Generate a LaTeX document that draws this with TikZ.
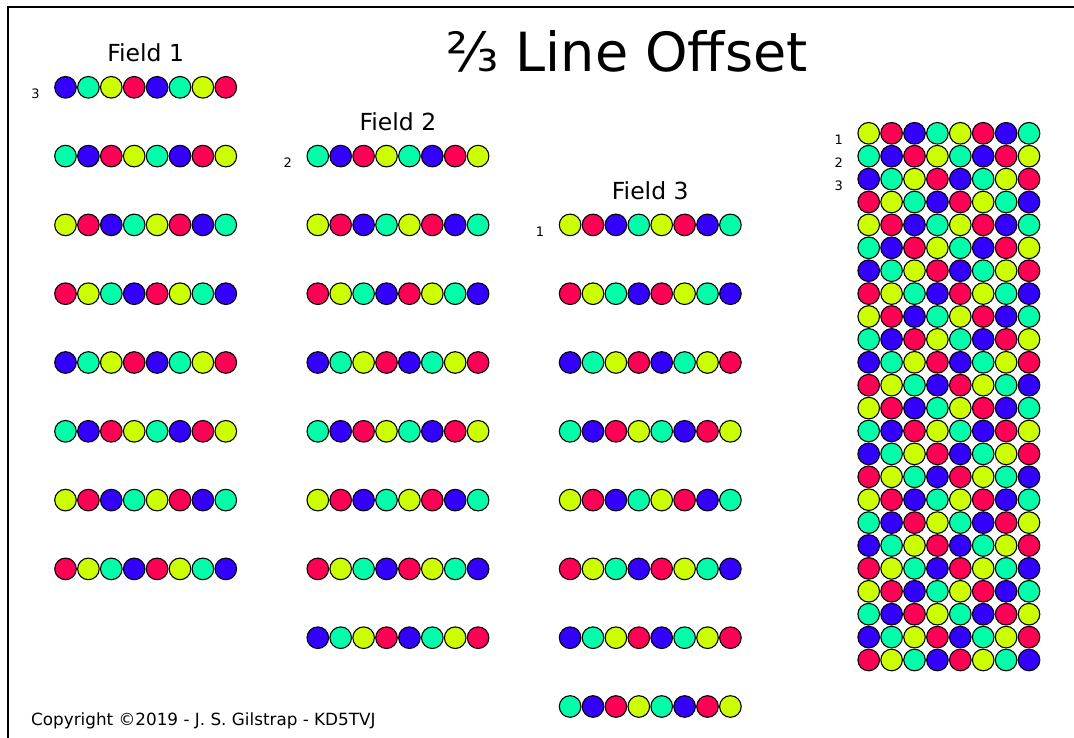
\documentclass[tikz,border=0pt]{standalone}
\usepackage{fontspec}
\setmainfont{DejaVu Sans}

\definecolor{bead0}{HTML}{CCFF00}
\definecolor{bead1}{HTML}{FF0055}
\definecolor{bead2}{HTML}{3300FF}
\definecolor{bead3}{HTML}{00FFAA}

\tikzset{
  bead/.style={circle,draw=black,line width=1.1pt,inner sep=0pt,minimum size=21.6pt},
  rowlabel/.style={anchor=base,inner sep=0pt,font=\fontsize{13}{15}\selectfont},
  fieldtitle/.style={anchor=base,inner sep=0pt,font=\fontsize{23.5}{28}\selectfont},
}

% one row of eight beads, colours as in line #4 of the full frame
\newcommand\beadrow[4]{%
  \foreach \j in {0,...,7}{%
    \pgfmathtruncatemacro\ii{4*mod(#4-1,4)+mod(\j,4)}%
    \pgfmathtruncatemacro\ci{{0,1,2,3,3,2,1,0,2,3,0,1,1,0,3,2}[\ii]}%
    \node[bead,fill=bead\ci] (#1-\j) at ({#2+22.9*\j},#3) {};
  }%
}

\begin{document}
\begin{tikzpicture}[x=1pt,y=-1pt]
  \useasboundingbox (0,0) rectangle (1074,738);

  % Frame
  \draw[line width=2.3pt] (8,738) -- (8,7) -- (1074,7);

  % Title
  \node[anchor=base,inner sep=0pt,font=\fontsize{54}{60}\selectfont] (title) at (627,71.7) {⅔ Line Offset};

  % Fields
  \foreach \f in {1,2,3}{
    \pgfmathsetmacro\fx{65.5+252.3*(\f-1)}
    \pgfmathsetmacro\fy{87.3+68.8*(\f-1)}
    \pgfmathtruncatemacro\fl{4-\f}
    \node[fieldtitle] (field\f) at (\fx+80.15,\fy-25.6) {Field \f};
    \node[rowlabel] (lab\f) at (\fx-30,\fy+11.5) {\fl};
    \foreach \r in {1,...,8}{
      \pgfmathtruncatemacro\g{4-\f+3*(\r-1)}
      \pgfmathsetmacro\ry{\fy+68.8*(\r-1)}
      \beadrow{f\f-\r}{\fx}{\ry}{\g}
    }
  }

  % Full frame
  \foreach \k in {1,...,24}{
    \pgfmathsetmacro\gy{133.3+22.9*(\k-1)}
    \beadrow{g\k}{868.7}{\gy}{\k}
  }
  \foreach \k in {1,2,3}{
    \node[rowlabel] (glab\k) at (838.7,{133.3+22.9*(\k-1)+11.5}) {\k};
  }

  % Copyright
  \node[anchor=base west,inner sep=0pt,font=\fontsize{16.8}{20}\selectfont] (copy) at (31,725) {Copyright ©2019 - J. S. Gilstrap - KD5TVJ};

\end{tikzpicture}
\end{document}
